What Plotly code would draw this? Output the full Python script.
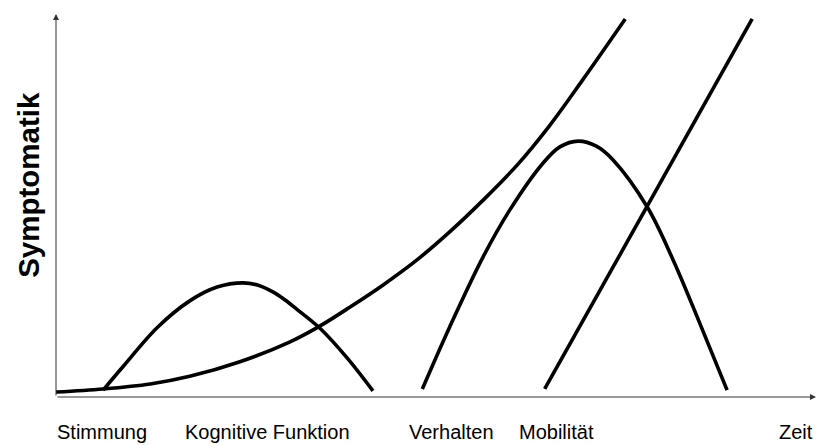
"""Symptomverlauf: schematische Darstellung der Symptomatik über die Zeit"""

import plotly.graph_objects as go

# Verlauf der Symptomatik (Zeit 0-100, Symptomatik 0-100)
kurve_x = [0, 6.2, 12.4, 17.6, 24.2, 30.8, 34.7, 38.7, 43.0, 47.5, 51.8, 56.2, 60.7, 65.0, 69.3, 74.9]
kurve_y = [1.3, 2.1, 3.4, 5.4, 9.2, 14.4, 18.5, 23.5, 29.2, 35.8, 43.1, 51.4, 60.6, 71.0, 82.8, 98.7]

kognition_x = [6.2, 8.8, 13.3, 17.6, 21.2, 24.6, 26.6, 28.6, 30.1, 31.7, 34.7, 38.3, 41.7]
kognition_y = [1.8, 7.9, 18.1, 25.1, 28.7, 29.8, 29.2, 27.4, 25.4, 22.9, 18.0, 10.2, 1.6]

verhalten_x = [48.2, 51.8, 56.2, 59.7, 64.1, 66.3, 68.7, 71.1, 73.3, 77.8, 81.2, 84.7, 88.3]
verhalten_y = [2.1, 18.3, 36.6, 48.8, 61.1, 65.3, 66.8, 65.5, 61.9, 49.6, 35.8, 19.3, 1.8]

mobilitaet_x = [64.3, 91.6]
mobilitaet_y = [2.1, 98.7]

# Beschriftungen unter der Zeitachse
labels = ["Stimmung", "Kognitive Funktion", "Verhalten", "Mobilität"]
label_pos = [6.1, 27.8, 52.1, 65.9]

LABEL_FONT = dict(family="Liberation Sans Narrow, Arial Narrow, Liberation Sans, Arial",
                  size=20, color="black")

fig = go.Figure()

for xs, ys, shape in [
    (kurve_x, kurve_y, "spline"),
    (kognition_x, kognition_y, "spline"),
    (verhalten_x, verhalten_y, "spline"),
    (mobilitaet_x, mobilitaet_y, "linear"),
]:
    fig.add_trace(go.Scatter(
        x=xs, y=ys, mode="lines",
        line=dict(color="black", width=3.6, shape=shape),
        hoverinfo="skip", showlegend=False,
    ))

# Achsen mit Pfeilspitzen
for tip in [(0, 100), (100, 0)]:
    fig.add_annotation(x=tip[0], y=tip[1], ax=0, ay=0, xref="x", yref="y",
                       axref="x", ayref="y", showarrow=True, arrowhead=2,
                       arrowsize=1.2, arrowwidth=1, arrowcolor="#333333", text="")

for text, pos in zip(labels, label_pos):
    fig.add_annotation(x=pos, y=0, xref="x", yref="y", yanchor="top", yshift=-22,
                       text=text, showarrow=False, font=LABEL_FONT)

fig.add_annotation(x=97.4, y=0, xref="x", yref="y", yanchor="top", yshift=-22,
                   text="Zeit", showarrow=False, font=LABEL_FONT)

fig.add_annotation(x=-0.036, y=0.553, xref="paper", yref="paper",
                   xanchor="center", yanchor="middle", textangle=-90,
                   text="<b>Symptomatik</b>", showarrow=False,
                   font=dict(family="Liberation Sans, Arial", size=29.5, color="black"))

fig.update_layout(
    width=817, height=445,
    margin=dict(l=56, r=1, t=14, b=48),
    plot_bgcolor="white", paper_bgcolor="white",
    xaxis=dict(range=[0, 100], visible=False, fixedrange=True),
    yaxis=dict(range=[0, 100], visible=False, fixedrange=True),
)

# Standardrand des Browsers entfernen, damit die Grafik genau im Fenster sitzt
fig.write_html("out.html", config={"displayModeBar": False},
               post_script="document.body.style.margin='0';")
